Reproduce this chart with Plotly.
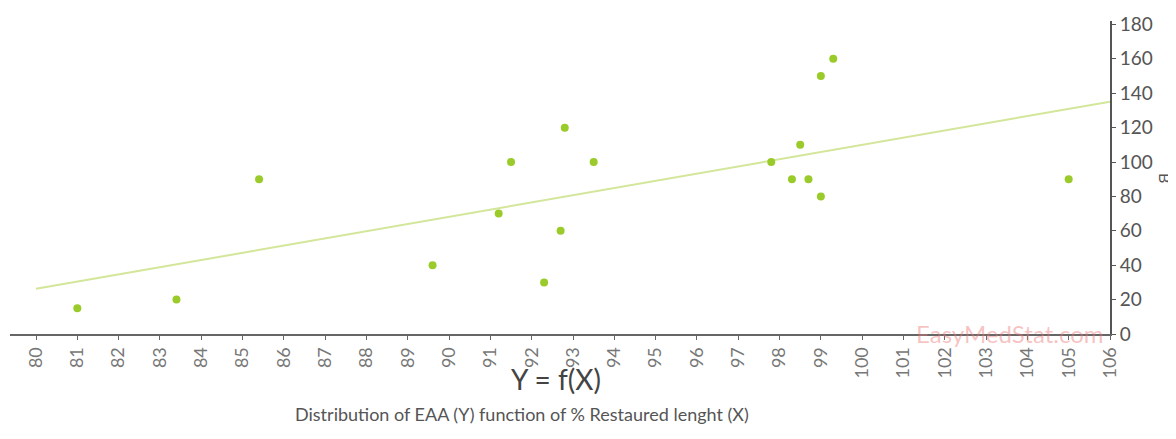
import numpy as np
import plotly.graph_objects as go

# % restaured length (X) and EAA (Y)
restaured_len = [81.0, 83.4, 85.4, 89.6, 91.2, 91.5, 92.3, 92.7, 92.8, 93.5,
                 97.8, 98.3, 98.5, 98.7, 99.0, 99.0, 99.3, 105.0]
eaa = [15, 20, 90, 40, 70, 100, 30, 60, 120, 100,
       100, 90, 110, 90, 80, 150, 160, 90]

x_ticks = list(range(80, 107))
y_ticks = list(range(0, 181, 20))

slope, intercept = np.polyfit(restaured_len, eaa, 1)
fit_x = [80, 106]
fit_y = [slope * v + intercept for v in fit_x]

# page has an 8px body margin, so the figure is a bit smaller
OFF = 8
W, H = 1176 - OFF, 439 - OFF
l, r, t, b = 10 - OFF, 66, 21 - OFF, 105
pw, ph = W - l - r, H - t - b


def px(x):
    return (x - OFF - l) / pw


def py(y):
    return (H - b - (y - OFF)) / ph


def note(text, x, y, size, color, angle=0):
    return dict(text=text, x=px(x), y=py(y), xref="paper", yref="paper",
                xanchor="center", yanchor="middle", showarrow=False,
                textangle=angle, font=dict(size=size, color=color))


fig = go.Figure()

fig.add_trace(go.Scatter(
    x=fit_x, y=fit_y, mode="lines",
    line=dict(color="#d3e69a", width=2),
    hoverinfo="skip"))

fig.add_trace(go.Scatter(
    x=restaured_len, y=eaa, mode="markers",
    marker=dict(color="#9acb2a", size=8, line=dict(width=0))))

fig.update_layout(
    width=W, height=H,
    margin=dict(l=l, r=r, t=t, b=b),
    paper_bgcolor="white", plot_bgcolor="white",
    showlegend=False,
    font=dict(family="Lato, sans-serif", color="#555"),
    xaxis=dict(
        range=[79.37, 106], tickvals=x_ticks, tickangle=-90,
        showgrid=False, zeroline=False, automargin=False,
        showline=True, linecolor="#666", linewidth=2,
        ticks="outside", ticklen=4, tickcolor="#666",
        tickfont=dict(size=18, color="#777")),
    yaxis=dict(
        range=[0, 182], tickvals=y_ticks, side="right",
        showgrid=False, zeroline=False, automargin=False,
        showline=True, linecolor="#555", linewidth=2,
        ticks="outside", ticklen=4, tickcolor="#555",
        tickfont=dict(size=19, color="#555")),
    annotations=[
        note("Y = f(X)", 556, 379, 28, "#444"),
        note("Distribution of EAA (Y) function of % Restaured lenght (X)",
             522, 414, 18, "#555"),
        note("B", 1166, 178, 16, "#555", angle=90),
        note("EasyMedStat.com", 1010, 333, 24, "rgba(235,120,120,0.45)"),
    ],
)

fig.write_html("out.html")
